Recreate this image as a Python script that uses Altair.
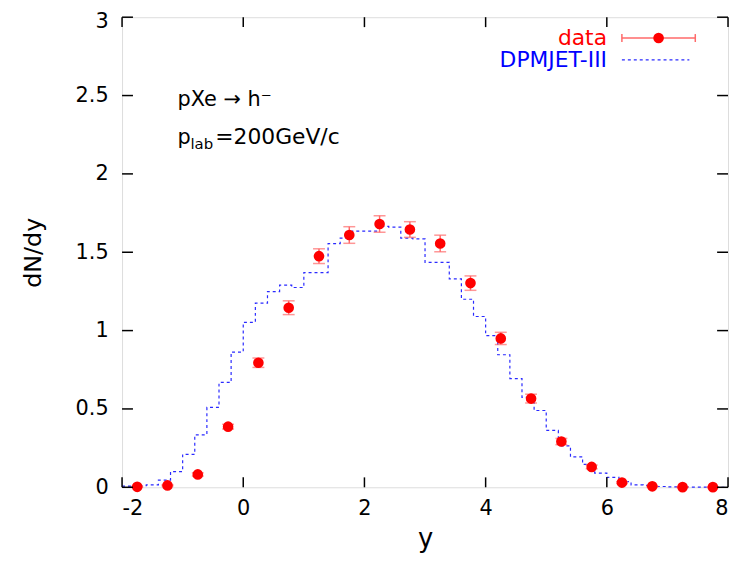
import altair as alt
import pandas as pd

# ---------------- data ----------------
hist_edges = [-2.0, -1.8, -1.6, -1.4, -1.2, -1.0, -0.8, -0.6, -0.4, -0.2,
              0.0, 0.2, 0.4, 0.6, 0.8, 1.0, 1.2, 1.4, 1.6, 1.8,
              2.0, 2.2, 2.4, 2.6, 2.8, 3.0, 3.2, 3.4, 3.6, 3.8,
              4.0, 4.2, 4.4, 4.6, 4.8, 5.0, 5.2, 5.4, 5.6, 5.8,
              6.0, 6.2, 6.4, 6.6, 6.8, 7.0, 7.2, 7.4, 7.6, 7.8, 8.0]
hist_values = [0.008, 0.010, 0.015, 0.046, 0.100, 0.210, 0.335, 0.510, 0.669, 0.863,
               1.053, 1.175, 1.249, 1.290, 1.275, 1.370, 1.370, 1.555, 1.590, 1.635,
               1.635, 1.665, 1.660, 1.590, 1.585, 1.435, 1.435, 1.330, 1.200, 1.090,
               0.968, 0.846, 0.694, 0.574, 0.490, 0.363, 0.264, 0.194, 0.146, 0.091,
               0.063, 0.036, 0.015, 0.012, 0.005, 0.003, 0.002, 0.001, 0.001, 0.000]

data_x = [-1.75, -1.25, -0.75, -0.25, 0.25, 0.75, 1.25, 1.75, 2.25, 2.75,
          3.25, 3.75, 4.25, 4.75, 5.25, 5.75, 6.25, 6.75, 7.25, 7.75]
data_y = [0.003, 0.012, 0.082, 0.387, 0.795, 1.146, 1.475, 1.610, 1.680, 1.645,
          1.556, 1.303, 0.950, 0.566, 0.292, 0.130, 0.030, 0.006, 0.001, 0.001]
data_err = [0.003, 0.004, 0.010, 0.015, 0.030, 0.044, 0.047, 0.053, 0.053, 0.050,
            0.053, 0.046, 0.039, 0.028, 0.020, 0.012, 0.006, 0.003, 0.002, 0.002]

x_ticks = [-2, 0, 2, 4, 6, 8]
y_ticks = [0, 0.5, 1, 1.5, 2, 2.5, 3]

# ---------------- layout / style ----------------
W, H = 611, 474
FONT = "DejaVu Sans"
RED = "#ff0000"
ERR_RED = "#ff6a6a"
BLUE = "#2a2aff"
TICK_LEN = 10

hist_df = pd.DataFrame({"rap": hist_edges, "dndy": hist_values + [hist_values[-1]]})
pts_df = pd.DataFrame({
    "rap": data_x,
    "dndy": data_y,
    "lo": [v - e for v, e in zip(data_y, data_err)],
    "hi": [v + e for v, e in zip(data_y, data_err)],
})
xt_df = pd.DataFrame({"rap": x_ticks})
yt_df = pd.DataFrame({"dndy": y_ticks})
one = pd.DataFrame({"k": [0]})

xs = alt.Scale(domain=[-2, 8], nice=False, zero=False)
ys = alt.Scale(domain=[0, 3], nice=False, zero=False)

x_axis = alt.Axis(values=x_ticks, labelExpr="'' + datum.value", title="y",
                  ticks=False, tickSize=0, domain=False, grid=False,
                  labelPadding=10, labelFontSize=21, labelFont=FONT, labelColor="black",
                  titleFont=FONT, titleFontSize=26, titleFontWeight="normal",
                  titleColor="black", titleBaseline="alphabetic", titleY=60)
y_axis = alt.Axis(values=y_ticks, labelExpr="'' + datum.value", title="dN/dy",
                  ticks=False, tickSize=0, domain=False, grid=False,
                  labelPadding=14, labelFontSize=21, labelFont=FONT, labelColor="black",
                  labelOffset={"condition": {"test": "datum.value == 3", "value": 4},
                               "value": 0},
                  titleFont=FONT, titleFontSize=24, titleFontWeight="normal",
                  titleColor="black", titleBaseline="alphabetic", titleX=-82,
                  titleY=H / 2, titleAngle=-90)

X = alt.X("rap:Q", scale=xs, axis=x_axis)
Y = alt.Y("dndy:Q", scale=ys, axis=y_axis)

hist = alt.Chart(hist_df).mark_line(
    interpolate="step-after", color=BLUE, strokeWidth=1.2, strokeDash=[3, 3]
).encode(x=X, y=Y)

err_rule = alt.Chart(pts_df).mark_rule(color=ERR_RED, strokeWidth=1.5).encode(
    x=X, y=alt.Y("lo:Q", scale=ys, axis=y_axis), y2="hi:Q")
cap_hi = alt.Chart(pts_df).mark_tick(color=ERR_RED, orient="horizontal", size=12,
                                     thickness=1.5).encode(
    x=X, y=alt.Y("hi:Q", scale=ys, axis=y_axis))
cap_lo = alt.Chart(pts_df).mark_tick(color=ERR_RED, orient="horizontal", size=12,
                                     thickness=1.5).encode(
    x=X, y=alt.Y("lo:Q", scale=ys, axis=y_axis))
points = alt.Chart(pts_df).mark_circle(color=RED, size=115, opacity=1).encode(x=X, y=Y)

# inward ticks on all four sides (gnuplot style)
tick_left = alt.Chart(yt_df).mark_rule(color="black", strokeWidth=1.5).encode(
    y=Y, x=alt.value(0), x2=alt.value(TICK_LEN + 1))
tick_right = alt.Chart(yt_df).mark_rule(color="black", strokeWidth=1.5).encode(
    y=Y, x=alt.value(W - TICK_LEN - 1), x2=alt.value(W))
tick_bottom = alt.Chart(xt_df).mark_rule(color="black", strokeWidth=1.5).encode(
    x=X, y=alt.value(H), y2=alt.value(H - TICK_LEN))
tick_top = alt.Chart(xt_df).mark_rule(color="black", strokeWidth=1.5).encode(
    x=X, y=alt.value(0), y2=alt.value(TICK_LEN))

# legend (top right)
lg_text_x = 489
lg_data = alt.Chart(one).mark_text(text="data", align="right", baseline="alphabetic",
                                   font=FONT, fontSize=22, color=RED).encode(
    x=alt.value(lg_text_x), y=alt.value(28))
lg_err = alt.Chart(one).mark_rule(color=ERR_RED, strokeWidth=1.5).encode(
    x=alt.value(504), x2=alt.value(578), y=alt.value(21))
lg_cap1 = alt.Chart(one).mark_rule(color=ERR_RED, strokeWidth=1.5).encode(
    x=alt.value(504), y=alt.value(17), y2=alt.value(25))
lg_cap2 = alt.Chart(one).mark_rule(color=ERR_RED, strokeWidth=1.5).encode(
    x=alt.value(578), y=alt.value(17), y2=alt.value(25))
lg_pt = alt.Chart(one).mark_circle(color=RED, size=115, opacity=1).encode(
    x=alt.value(541), y=alt.value(21))
lg_dpm = alt.Chart(one).mark_text(text="DPMJET-III", align="right", baseline="alphabetic",
                                  font=FONT, fontSize=22, color="#0000ff").encode(
    x=alt.value(lg_text_x), y=alt.value(50))
lg_dash = alt.Chart(one).mark_rule(color=BLUE, strokeWidth=1.2, strokeDash=[3, 3]).encode(
    x=alt.value(504), x2=alt.value(572), y=alt.value(43))

# annotations
ann1 = alt.Chart(one).mark_text(text="pXe \u2192 h\u207b", align="left", baseline="alphabetic",
                                font=FONT, fontSize=21, color="black").encode(
    x=alt.value(56), y=alt.value(90))
ann2a = alt.Chart(one).mark_text(text="p", align="left", baseline="alphabetic",
                                 font=FONT, fontSize=21, color="black").encode(
    x=alt.value(56), y=alt.value(128))
ann2b = alt.Chart(one).mark_text(text="lab", align="left", baseline="alphabetic",
                                 font=FONT, fontSize=15, color="black").encode(
    x=alt.value(69), y=alt.value(133))
ann2c = alt.Chart(one).mark_text(text="=200GeV/c", align="left", baseline="alphabetic",
                                 font=FONT, fontSize=22, color="black").encode(
    x=alt.value(94), y=alt.value(128))

chart = alt.layer(
    hist, err_rule, cap_hi, cap_lo, points,
    tick_left, tick_right, tick_bottom, tick_top,
    lg_data, lg_err, lg_cap1, lg_cap2, lg_pt, lg_dpm, lg_dash,
    ann1, ann2a, ann2b, ann2c,
).properties(
    width=W, height=H,
    autosize=alt.AutoSizeParams(type="none"),
    padding={"left": 115, "top": 7, "right": 2, "bottom": 66},
).configure_view(
    stroke="black", strokeWidth=1.5
).configure(background="white")

chart.save("out.html", embed_options={"renderer": "svg", "actions": False})
